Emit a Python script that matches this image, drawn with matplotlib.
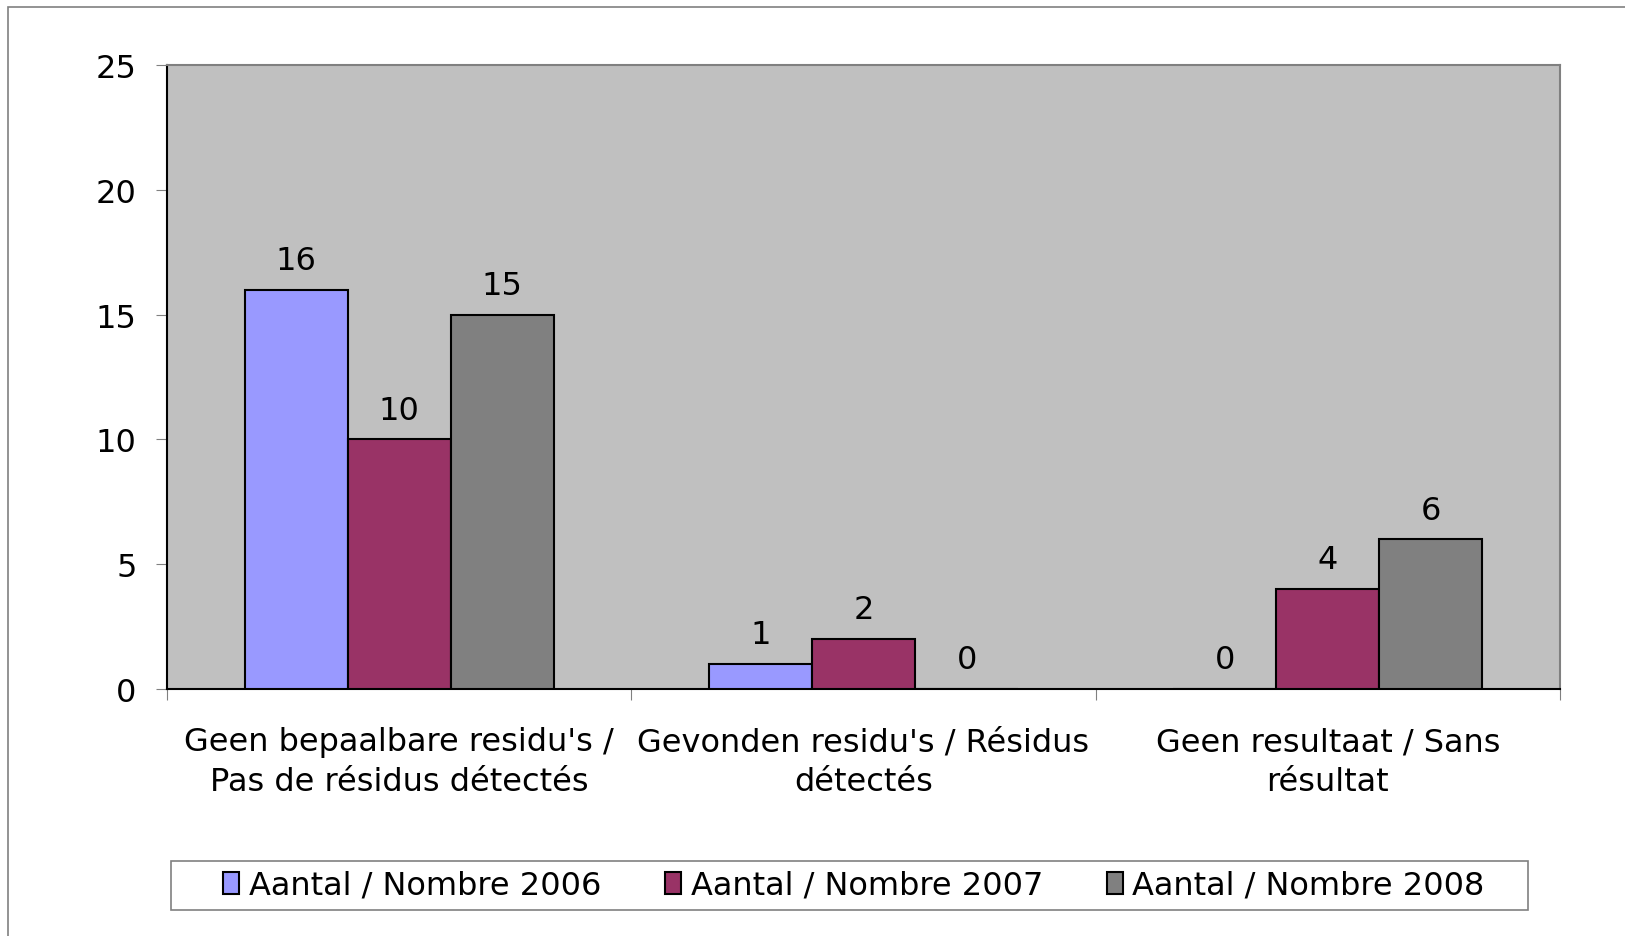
"""
Grouped bar chart: residue results 2006-2008
"""

import numpy as np
import matplotlib.pyplot as plt
from matplotlib.patches import Rectangle

categories = [
    "Geen bepaalbare residu's /\nPas de résidus détectés",
    "Gevonden residu's / Résidus\ndétectés",
    "Geen resultaat / Sans\nrésultat",
]
series_names = ["Aantal / Nombre 2006", "Aantal / Nombre 2007", "Aantal / Nombre 2008"]
values_2006 = [16, 1, 0]
values_2007 = [10, 2, 4]
values_2008 = [15, 0, 6]
colors = ["#9999FF", "#993366", "#808080"]

plt.rcParams["font.family"] = ["DejaVu Sans"]
FS = 23

W, H = 1625, 937
fig = plt.figure(figsize=(W / 100, H / 100), dpi=100)
ax = fig.add_axes([167 / W, 1 - 690 / H, 1393 / W, 624 / H])

# outer chart border (right and bottom edges fall outside the picture)
fig.patches.append(Rectangle((8 / W, -0.1), 1.2, 1 - 8 / H + 0.1, transform=fig.transFigure,
                             fill=False, edgecolor="#808080", linewidth=1.2))
# legend box
fig.patches.append(Rectangle((171 / W, 1 - 911 / H), 1357 / W, 49 / H, transform=fig.transFigure,
                             fill=False, edgecolor="#808080", linewidth=1.2))

x = np.arange(len(categories))
width = 0.222
all_values = [values_2006, values_2007, values_2008]
for i, (vals, name, col) in enumerate(zip(all_values, series_names, colors)):
    bars = ax.bar(x + (i - 1) * width, vals, width, color=col, edgecolor="black",
                  linewidth=1.5, label=name, zorder=3)
    for b, v in zip(bars, vals):
        ax.text(b.get_x() + b.get_width() / 2, v + 0.55, str(v), ha="center", va="bottom",
                fontsize=FS)

ax.set_facecolor("#C0C0C0")
ax.set_xlim(-0.5, 2.5)
ax.set_ylim(0, 25)
ax.set_yticks([0, 5, 10, 15, 20, 25])
ax.tick_params(axis="y", labelsize=FS, length=8, color="#808080", pad=14)

ax.set_xticks([-0.5, 0.5, 1.5, 2.5])
ax.set_xticklabels([])
ax.tick_params(axis="x", length=8, color="#808080")
ax.set_xticks(x, minor=True)
ax.set_xticklabels(categories, minor=True, fontsize=FS, linespacing=1.36)
ax.tick_params(axis="x", which="minor", length=0, pad=27)

ax.spines["left"].set_color("black")
ax.spines["bottom"].set_color("black")
ax.spines["top"].set_color("#808080")
ax.spines["right"].set_color("#808080")
for s in ax.spines.values():
    s.set_linewidth(1.5)

fig.legend(loc="center", bbox_to_anchor=(854 / W, 1 - 886.5 / H), ncol=3,
           fontsize=FS, frameon=False,
           handlelength=0.5, handleheight=0.7, handletextpad=0.3, columnspacing=2.0)

plt.savefig("out.png", dpi=100)
